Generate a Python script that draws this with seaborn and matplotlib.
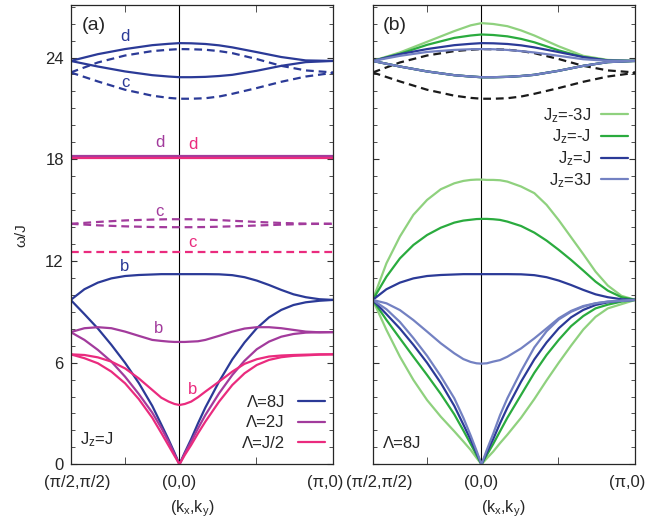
import seaborn as sns
import matplotlib.pyplot as plt
import matplotlib.transforms as mtrans
from matplotlib.lines import Line2D
from matplotlib.ticker import MultipleLocator, FixedLocator

# path coordinate along (pi/2,pi/2) -> (0,0) -> (pi,0), length units
k_path = [0.0, 0.28, 0.555, 0.83, 1.11, 1.39, 1.665, 1.85, 2.0, 2.12, 2.221,
          2.33, 2.46, 2.6, 2.75, 3.03, 3.3, 3.55, 3.8, 4.05, 4.3, 4.55, 4.8, 5.08, 5.363]
k_band = [0.0, 0.555, 1.11, 1.665, 2.0, 2.221, 2.46, 2.75, 3.03, 3.3, 3.8, 4.3, 4.8, 5.363]
k_ends = [0.0, 5.363]
k_ticks = [0.0, 2.221, 5.363]
k_minor = [1.111, 3.792]
k_labels = ['(π/2,π/2)', '(0,0)', '(π,0)']

# (a) Jz=J, Lambda = 8J  (upper bands on k_band, lower bands on k_path)
lam8_d = [23.8, 24.2, 24.5, 24.73, 24.81, 24.85, 24.84, 24.8, 24.72, 24.6, 24.32, 24.03, 23.83, 23.8]
lam8_top_low = [23.8, 23.47, 23.18, 22.96, 22.88, 22.84, 22.84, 22.86, 22.91, 22.98, 23.22, 23.51, 23.73, 23.8]
lam8_c_up = [23.12, 23.71, 24.12, 24.38, 24.46, 24.5, 24.49, 24.46, 24.38, 24.26, 23.91, 23.51, 23.24, 23.12]
lam8_c_low = [23.12, 22.59, 22.1, 21.75, 21.62, 21.57, 21.57, 21.6, 21.7, 21.86, 22.2, 22.57, 22.88, 23.1]
lam8_b = [9.7, 10.33, 10.72, 10.97, 11.11, 11.17, 11.2, 11.22, 11.22, 11.22, 11.22,
          11.22, 11.22, 11.22, 11.22, 11.21, 11.16, 11.04, 10.84, 10.58, 10.29, 10.03, 9.86, 9.74, 9.7]
lam8_a = [9.7, 8.86, 8.01, 7.05, 5.99, 4.8, 3.45, 2.35, 1.45, 0.68, 0.0,
          0.7, 1.49, 2.42, 3.35, 4.88, 6.19, 7.19, 8.03, 8.67, 9.11, 9.4, 9.56, 9.65, 9.7]

# Lambda = 2J
lam2_d = [18.2, 18.2]
lam2_c_up = [14.19, 14.3, 14.39, 14.44, 14.46, 14.46, 14.46, 14.44, 14.41, 14.37, 14.3, 14.24, 14.2, 14.19]
lam2_c_low = [14.19, 14.1, 14.04, 14.0, 13.99, 13.99, 13.99, 14.0, 14.02, 14.04, 14.09, 14.14, 14.18, 14.19]
lam2_b = [7.8, 8.03, 8.09, 8.03, 7.83, 7.58, 7.34, 7.28, 7.24, 7.22, 7.22,
          7.22, 7.24, 7.26, 7.34, 7.58, 7.83, 8.01, 8.09, 8.09, 8.03, 7.93, 7.83, 7.79, 7.8]
lam2_a = [7.8, 7.34, 6.75, 6.06, 5.17, 4.15, 3.05, 2.15, 1.33, 0.6, 0.0,
          0.65, 1.34, 2.12, 2.91, 4.19, 5.27, 6.11, 6.79, 7.24, 7.53, 7.69, 7.77, 7.79, 7.8]

# Lambda = J/2
lamh_d = [18.05, 18.05]
lamh_c = [12.51, 12.51]
lamh_b = [6.49, 6.45, 6.31, 6.06, 5.66, 5.07, 4.39, 3.93, 3.7, 3.56, 3.5,
          3.56, 3.7, 3.96, 4.29, 4.88, 5.47, 5.93, 6.2, 6.36, 6.42, 6.45, 6.47, 6.49, 6.49]
lamh_a = [6.49, 6.26, 5.96, 5.47, 4.78, 3.85, 2.75, 1.85, 1.1, 0.5, 0.0,
          0.55, 1.14, 1.83, 2.52, 3.7, 4.68, 5.37, 5.86, 6.16, 6.32, 6.4, 6.43, 6.47, 6.49]

# (b) Lambda=8J, different Jz
jzm3_d = [23.8, 24.3, 24.93, 25.56, 25.9, 26.03, 25.98, 25.85, 25.6, 25.3, 24.66, 24.1, 23.86, 23.8]
jzm1_d = [23.8, 24.22, 24.75, 25.16, 25.3, 25.36, 25.33, 25.25, 25.1, 24.9, 24.42, 24.03, 23.83, 23.8]
jzp3_d = [23.8, 24.1, 24.33, 24.45, 24.49, 24.5, 24.49, 24.45, 24.38, 24.3, 24.1, 23.9, 23.81, 23.8]

jzm3_b = [9.7, 11.86, 13.44, 14.72, 15.6, 16.23, 16.58, 16.72, 16.78, 16.8, 16.8,
          16.78, 16.78, 16.76, 16.68, 16.39, 16.0, 15.31, 14.4, 13.4, 12.4, 11.37, 10.55, 9.94, 9.7]
jzm1_b = [9.7, 11.07, 12.15, 12.94, 13.53, 13.96, 14.26, 14.38, 14.43, 14.47, 14.48,
          14.48, 14.46, 14.42, 14.32, 14.06, 13.67, 13.2, 12.65, 12.06, 11.43, 10.78, 10.25, 9.86, 9.7]
jzp3_b = [9.7, 9.5, 9.1, 8.51, 7.83, 7.14, 6.55, 6.21, 6.04, 5.96, 5.94,
          5.96, 6.06, 6.15, 6.35, 6.84, 7.43, 8.02, 8.62, 9.05, 9.34, 9.5, 9.6, 9.64, 9.7]

jzm3_a = [9.7, 7.93, 6.35, 4.98, 3.79, 2.81, 1.95, 1.35, 0.85, 0.38, 0.0,
          0.35, 0.75, 1.25, 1.75, 2.75, 3.85, 4.95, 6.0, 7.0, 7.95, 8.7, 9.2, 9.45, 9.7]
jzm1_a = [9.7, 8.52, 7.43, 6.35, 5.27, 4.15, 2.95, 2.0, 1.2, 0.55, 0.0,
          0.55, 1.2, 1.95, 2.75, 4.1, 5.4, 6.45, 7.35, 8.15, 8.75, 9.2, 9.42, 9.6, 9.7]
jzp3_a = [9.7, 9.15, 8.4, 7.45, 6.4, 5.2, 3.9, 2.75, 1.7, 0.8, 0.0,
          0.85, 1.8, 2.9, 3.9, 5.5, 6.9, 7.85, 8.55, 9.0, 9.3, 9.5, 9.6, 9.66, 9.7]

blue = '#2b3a97'
purple = '#a23b9c'
pink = '#ea2b7e'
lgreen = '#8fd17e'
green = '#2aab3e'
lavender = '#7381c2'
black = '#1a1a1a'

sns.set_style('ticks')
plt.rcParams['font.family'] = ['Liberation Sans', 'DejaVu Sans']
plt.rcParams['mathtext.default'] = 'regular'
plt.rcParams['axes.linewidth'] = 0.9


def curve(ax, x, y, color, dashed=False):
    ls = (0, (3.5, 2.2)) if dashed else '-'
    sns.lineplot(x=x, y=y, ax=ax, color=color, lw=1.6, linestyle=ls, legend=False, zorder=2)


fig = plt.figure(figsize=(6.59, 5.21), dpi=100)
ax_a = fig.add_axes([0.1073, 0.1088, 0.3985, 0.8816])
ax_b = fig.add_axes([0.5656, 0.1088, 0.3985, 0.8816])

# panel (a)
curve(ax_a, k_band, lam8_c_up, blue, True)
curve(ax_a, k_band, lam8_c_low, blue, True)
curve(ax_a, k_band, lam8_d, blue)
curve(ax_a, k_band, lam8_top_low, blue)
curve(ax_a, k_path, lam8_b, blue)
curve(ax_a, k_path, lam8_a, blue)
curve(ax_a, k_ends, lam2_d, purple)
curve(ax_a, k_band, lam2_c_up, purple, True)
curve(ax_a, k_band, lam2_c_low, purple, True)
curve(ax_a, k_path, lam2_b, purple)
curve(ax_a, k_path, lam2_a, purple)
curve(ax_a, k_ends, lamh_d, pink)
curve(ax_a, k_ends, lamh_c, pink, True)
curve(ax_a, k_path, lamh_b, pink)
curve(ax_a, k_path, lamh_a, pink)

band_labels = [
    (1.109, 25.22, 'd', blue), (1.109, 22.51, 'c', blue),
    (1.824, 18.97, 'd', purple), (2.498, 18.85, 'd', pink),
    (1.803, 14.89, 'c', purple), (2.478, 13.06, 'c', pink),
    (1.109, 11.65, 'b', blue), (1.803, 7.99, 'b', purple), (2.478, 4.39, 'b', pink),
]
for x, y, s, c in band_labels:
    ax_a.text(x, y, s, color=c, fontsize=12, ha='center', va='center')

handles_a = [Line2D([], [], color=c, lw=1.6) for c in (blue, purple, pink)]
ax_a.legend(handles_a, ['Λ=8J', 'Λ=2J', 'Λ=J/2'], loc='lower right',
            bbox_to_anchor=(0.968, 0.03), markerfirst=False, frameon=False,
            fontsize=12, handlelength=1.6, handletextpad=0.8, labelspacing=0.31,
            borderpad=0, borderaxespad=0)
ax_a.text(0.043, 0.956, '(a)', transform=ax_a.transAxes, fontsize=14, va='center')
ax_a.text(0.035, 0.053, 'J$_z$=J', transform=ax_a.transAxes, fontsize=12, va='center')

# panel (b)
curve(ax_b, k_band, lam8_c_up, black, True)
curve(ax_b, k_band, lam8_c_low, black, True)
for top, opt, ac, c in [(jzm3_d, jzm3_b, jzm3_a, lgreen), (jzm1_d, jzm1_b, jzm1_a, green),
                        (lam8_d, lam8_b, lam8_a, blue), (jzp3_d, jzp3_b, jzp3_a, lavender)]:
    curve(ax_b, k_band, top, c)
    curve(ax_b, k_band, lam8_top_low, c)
    curve(ax_b, k_path, opt, c)
    curve(ax_b, k_path, ac, c)

handles_b = [Line2D([], [], color=c, lw=1.6) for c in (lgreen, green, blue, lavender)]
ax_b.legend(handles_b, ['J$_z$=-3J', 'J$_z$=-J', 'J$_z$=J', 'J$_z$=3J'], loc='upper right',
            bbox_to_anchor=(0.972, 0.78), markerfirst=False, frameon=False,
            fontsize=12, handlelength=1.6, handletextpad=0.6, labelspacing=0.18,
            borderpad=0, borderaxespad=0)
ax_b.text(0.039, 0.956, '(b)', transform=ax_b.transAxes, fontsize=14, va='center')
ax_b.text(0.039, 0.046, 'Λ=8J', transform=ax_b.transAxes, fontsize=12, va='center')

for ax in (ax_a, ax_b):
    ax.axvline(k_ticks[1], color='black', lw=0.8, zorder=1)
    ax.set_xlim(k_ends[0], k_ends[1])
    ax.set_ylim(0, 27.1)
    ax.set_xticks(k_ticks)
    ax.set_xticklabels(k_labels)
    ax.xaxis.set_minor_locator(FixedLocator(k_minor))
    ax.yaxis.set_major_locator(MultipleLocator(6))
    ax.yaxis.set_minor_locator(MultipleLocator(1))
    ax.tick_params(which='both', direction='in', top=True, right=True, labelsize=12, color='#333333')
    ax.tick_params(axis='x', which='major', length=0, pad=8)
    ax.tick_params(axis='x', which='minor', length=5)
    ax.tick_params(axis='y', which='major', length=4, pad=5)
    ax.tick_params(axis='y', which='minor', length=3.2)
    labs = ax.get_xticklabels()
    labs[0].set_transform(labs[0].get_transform() + mtrans.ScaledTranslation(5 / 72, 0, fig.dpi_scale_trans))
    labs[-1].set_transform(labs[-1].get_transform() + mtrans.ScaledTranslation(-6 / 72, 0, fig.dpi_scale_trans))
    ax.set_xlabel('(k$_x$,k$_y$)', fontsize=11.5)

ax_b.tick_params(labelleft=False)
ax_a.set_ylabel('ω/J', fontsize=11)
ax_a.yaxis.set_label_coords(-0.163, 0.5)
ax_a.xaxis.set_label_coords(0.464, -0.074)
ax_b.xaxis.set_label_coords(0.496, -0.074)

fig.savefig('out.png', dpi=100)
